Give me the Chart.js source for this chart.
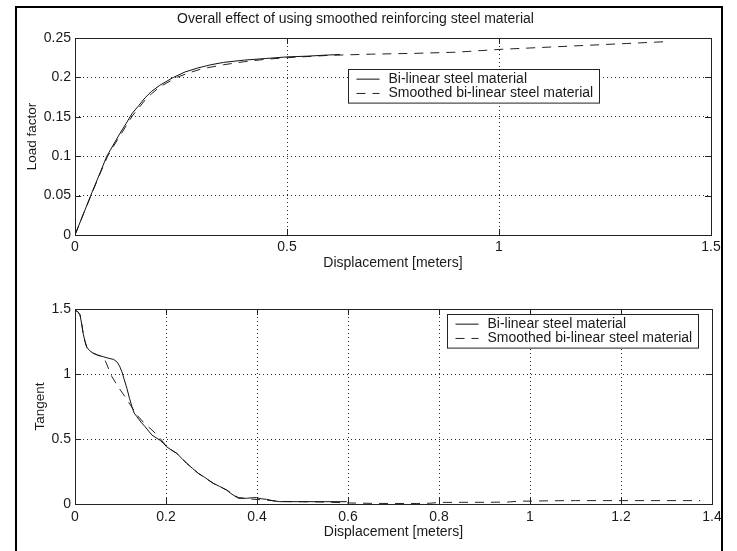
<!DOCTYPE html>
<html>
<head>
<meta charset="utf-8">
<script src="https://cdn.jsdelivr.net/npm/chart.js@4.4.1/dist/chart.umd.min.js"></script>
<style>
  html, body { margin: 0; padding: 0; background: #fff; }
  #fig { position: relative; width: 737px; height: 551px; overflow: hidden; background: #fff; }
  #frame { position: absolute; left: 15px; top: 6px; width: 708px; height: 570px;
           border: 2px solid #000; box-sizing: border-box; }
  canvas { position: absolute; left: 0; }
  #topChart { top: 0; }
  #bottomChart { top: 275px; }
</style>
</head>
<body>
<div id="fig">
  <div id="frame"></div>
  <canvas id="topChart" width="737" height="275"></canvas>
  <canvas id="bottomChart" width="737" height="276"></canvas>
</div>
<script>
// ---- Load factor vs displacement ----
const topBilinearX = [0, 0.02, 0.04, 0.06, 0.075, 0.09, 0.105, 0.12, 0.135, 0.15, 0.165, 0.18, 0.20, 0.232, 0.26, 0.29, 0.32, 0.35, 0.40, 0.45, 0.50, 0.55, 0.60, 0.625];
const topBilinearY = [0, 0.027, 0.054, 0.080, 0.100, 0.114, 0.128, 0.141, 0.1545, 0.164, 0.174, 0.182, 0.190, 0.200, 0.207, 0.212, 0.216, 0.219, 0.222, 0.224, 0.226, 0.227, 0.2285, 0.229];
const topSmoothX = [0, 0.02, 0.04, 0.06, 0.077, 0.09, 0.105, 0.12, 0.135, 0.15, 0.165, 0.18, 0.20, 0.24, 0.27, 0.30, 0.35, 0.40, 0.45, 0.50, 0.60, 0.70, 0.80, 0.90, 1.00, 1.10, 1.20, 1.30, 1.40];
const topSmoothY = [0, 0.027, 0.053, 0.079, 0.100, 0.112, 0.125, 0.138, 0.151, 0.161, 0.171, 0.179, 0.188, 0.200, 0.206, 0.211, 0.216, 0.220, 0.223, 0.225, 0.228, 0.2295, 0.2305, 0.232, 0.2355, 0.238, 0.2405, 0.243, 0.2455];

// ---- Tangent vs displacement ----
const botBilinearX = [0, 0.006, 0.011, 0.015, 0.018, 0.022, 0.026, 0.032, 0.04, 0.05, 0.062, 0.075, 0.085, 0.093, 0.098, 0.103, 0.108, 0.114, 0.12, 0.125, 0.13, 0.136, 0.145, 0.154, 0.162, 0.169, 0.178, 0.187, 0.195, 0.2015, 0.212, 0.2235, 0.235, 0.2455, 0.258, 0.271, 0.285, 0.304, 0.318, 0.333, 0.345, 0.359, 0.377, 0.39, 0.399, 0.41, 0.421, 0.435, 0.45, 0.50, 0.55, 0.597];
const botBilinearY = [1.49, 1.48, 1.455, 1.38, 1.31, 1.25, 1.205, 1.18, 1.16, 1.145, 1.133, 1.12, 1.112, 1.09, 1.06, 1.018, 0.96, 0.89, 0.81, 0.75, 0.70, 0.672, 0.63, 0.595, 0.56, 0.531, 0.51, 0.49, 0.465, 0.44, 0.415, 0.39, 0.35, 0.313, 0.275, 0.236, 0.205, 0.159, 0.135, 0.108, 0.075, 0.044, 0.044, 0.048, 0.049, 0.04, 0.036, 0.025, 0.018, 0.018, 0.018, 0.018];
const botSmoothX = [0, 0.006, 0.011, 0.015, 0.018, 0.022, 0.026, 0.032, 0.04, 0.05, 0.062, 0.068, 0.075, 0.081, 0.095, 0.11, 0.123, 0.136, 0.15, 0.165, 0.178, 0.187, 0.195, 0.2015, 0.2235, 0.2455, 0.271, 0.304, 0.333, 0.359, 0.38, 0.42, 0.45, 0.50, 0.55, 0.60, 0.65, 0.70, 0.75, 0.78, 0.80, 0.85, 0.90, 0.95, 0.98, 1.00, 1.05, 1.10, 1.20, 1.30, 1.374];
const botSmoothY = [1.49, 1.48, 1.455, 1.38, 1.31, 1.25, 1.205, 1.18, 1.16, 1.145, 1.133, 1.09, 1.03, 0.98, 0.90, 0.825, 0.755, 0.685, 0.63, 0.582, 0.54, 0.505, 0.47, 0.44, 0.39, 0.313, 0.236, 0.159, 0.108, 0.05, 0.04, 0.03, 0.02, 0.017, 0.015, 0.008, 0.005, 0.004, 0.004, 0.006, 0.012, 0.013, 0.013, 0.015, 0.022, 0.022, 0.025, 0.026, 0.026, 0.026, 0.026];

// ---- Axis ticks ----
const topXTicks = [0, 0.5, 1, 1.5];
const topYTicks = [0, 0.05, 0.1, 0.15, 0.2, 0.25];
const botXTicks = [0, 0.2, 0.4, 0.6, 0.8, 1, 1.2, 1.4];
const botYTicks = [0, 0.5, 1, 1.5];

const seriesNames = ['Bi-linear steel material', 'Smoothed bi-linear steel material'];
const titleText = 'Overall effect of using smoothed reinforcing steel material';
const xTitle = 'Displacement [meters]';
const topYTitle = 'Load factor';
const botYTitle = 'Tangent';

const FONT = '"Liberation Sans", Arial, Helvetica, sans-serif';
const INK = '#1a1a1a';

function toPoints(xs, ys) { return xs.map((x, i) => ({ x: x, y: ys[i] })); }

// Box around the plot area with inward tick marks on all four sides
const boxPlugin = {
  id: 'axesBox',
  afterDatasetsDraw(chart) {
    const { ctx, chartArea: a, scales } = chart;
    const len = 6;
    ctx.save();
    ctx.strokeStyle = '#222';
    ctx.lineWidth = 1;
    ctx.strokeRect(Math.round(a.left) + 0.5, Math.round(a.top) + 0.5,
                   Math.round(a.right - a.left), Math.round(a.bottom - a.top));
    ctx.beginPath();
    scales.x.ticks.forEach(t => {
      const px = Math.round(scales.x.getPixelForValue(t.value)) + 0.5;
      ctx.moveTo(px, a.bottom); ctx.lineTo(px, a.bottom - len);
      ctx.moveTo(px, a.top); ctx.lineTo(px, a.top + len);
    });
    scales.y.ticks.forEach(t => {
      const py = Math.round(scales.y.getPixelForValue(t.value)) + 0.5;
      ctx.moveTo(a.left, py); ctx.lineTo(a.left + len, py);
      ctx.moveTo(a.right, py); ctx.lineTo(a.right - len, py);
    });
    ctx.stroke();
    ctx.restore();
  }
};

// Boxed legend placed inside the plot area
const boxLegendPlugin = {
  id: 'boxLegend',
  afterDraw(chart, args, opts) {
    const { ctx } = chart;
    const ds = chart.data.datasets;
    ctx.save();
    ctx.font = '14px ' + FONT;
    const tw = Math.max(...ds.map(d => ctx.measureText(d.label).width));
    const w = opts.pad + opts.sample + opts.gap + tw + opts.padRight;
    const h = opts.rowH * ds.length + opts.padV * 2;
    const x0 = Math.round(opts.x) + 0.5, y0 = Math.round(opts.y) + 0.5;
    ctx.fillStyle = '#fff';
    ctx.fillRect(x0, y0, Math.round(w), h);
    ctx.strokeStyle = '#222';
    ctx.lineWidth = 1;
    ctx.strokeRect(x0, y0, Math.round(w), h);
    ds.forEach((d, i) => {
      const cy = y0 + opts.padV + opts.rowH * (i + 0.5);
      ctx.beginPath();
      ctx.setLineDash(d.borderDash || []);
      ctx.strokeStyle = d.borderColor;
      ctx.lineWidth = d.borderWidth;
      ctx.moveTo(x0 + opts.pad, cy);
      ctx.lineTo(x0 + opts.pad + opts.sample, cy);
      ctx.stroke();
      ctx.setLineDash([]);
      ctx.fillStyle = INK;
      ctx.textBaseline = 'middle';
      ctx.textAlign = 'left';
      ctx.fillText(d.label, x0 + opts.pad + opts.sample + opts.gap, cy);
    });
    ctx.restore();
  }
};

function makeChart(canvasId, cfg) {
  const solid = {
    label: seriesNames[0], data: cfg.solid,
    showLine: true, borderColor: '#111', borderWidth: 1, pointRadius: 0, tension: 0, fill: false
  };
  const dashed = {
    label: seriesNames[1], data: cfg.dashed,
    showLine: true, borderColor: '#222', borderWidth: 1, borderDash: [9, 7], pointRadius: 0, tension: 0, fill: false
  };
  const gridStyle = { color: 'rgba(0,0,0,0.85)', lineWidth: 1, drawTicks: false };
  const tickFont = { family: FONT, size: 14 };
  return new Chart(document.getElementById(canvasId), {
    type: 'scatter',
    data: { datasets: [solid, dashed] },
    options: {
      responsive: false,
      animation: false,
      devicePixelRatio: 1,
      layout: { padding: cfg.padding },
      plugins: {
        legend: { display: false },
        tooltip: { enabled: false },
        title: cfg.title ? {
          display: true, text: cfg.title, color: INK,
          font: { family: FONT, size: 14, weight: 'normal' },
          padding: { top: 10.5, bottom: 10.7 }
        } : { display: false },
        boxLegend: cfg.legend
      },
      scales: {
        x: {
          type: 'linear', min: cfg.xTicks[0], max: cfg.xTicks[cfg.xTicks.length - 1],
          afterBuildTicks: s => { s.ticks = cfg.xTicks.map(v => ({ value: v })); },
          afterFit: s => { s.height = cfg.xHeight; },
          ticks: { color: INK, font: tickFont, padding: cfg.xTickPad, maxRotation: 0, autoSkip: false,
                   callback: v => String(v) },
          grid: gridStyle,
          border: { display: false, dash: [1, 3] },
          title: { display: true, text: xTitle, color: INK, font: tickFont,
                   padding: { top: 0, bottom: cfg.xTitlePad } }
        },
        y: {
          type: 'linear', min: cfg.yTicks[0], max: cfg.yTicks[cfg.yTicks.length - 1],
          afterBuildTicks: s => { s.ticks = cfg.yTicks.map(v => ({ value: v })); },
          afterFit: s => { s.width = 75; },
          ticks: { color: INK, font: tickFont, padding: 4, autoSkip: false,
                   callback: v => String(v) },
          grid: gridStyle,
          border: { display: false, dash: [1, 3] },
          title: { display: true, text: cfg.yTitle, color: INK, font: { family: FONT, size: 13.5 },
                   padding: { top: cfg.yTitlePad, bottom: 0 } }
        }
      }
    },
    plugins: [boxPlugin, boxLegendPlugin]
  });
}

makeChart('topChart', {
  solid: toPoints(topBilinearX, topBilinearY),
  dashed: toPoints(topSmoothX, topSmoothY),
  xTicks: topXTicks, yTicks: topYTicks,
  title: titleText, yTitle: topYTitle,
  padding: { left: 0, right: 26, top: 0, bottom: 0 },
  xHeight: 40, xTickPad: 4, xTitlePad: 3.6, yTitlePad: 24,
  legend: { x: 348, y: 69, pad: 8, sample: 23, gap: 9, padRight: 6, rowH: 14.3, padV: 2.5 }
});

makeChart('bottomChart', {
  solid: toPoints(botBilinearX, botBilinearY),
  dashed: toPoints(botSmoothX, botSmoothY),
  xTicks: botXTicks, yTicks: botYTicks,
  title: null, yTitle: botYTitle,
  padding: { left: 0, right: 25, top: 34, bottom: 0 },
  xHeight: 47, xTickPad: 4.6, xTitlePad: 10, yTitlePad: 32,
  legend: { x: 447, y: 39, pad: 8, sample: 23, gap: 9, padRight: 6, rowH: 14.3, padV: 2.5 }
});
</script>
</body>
</html>
